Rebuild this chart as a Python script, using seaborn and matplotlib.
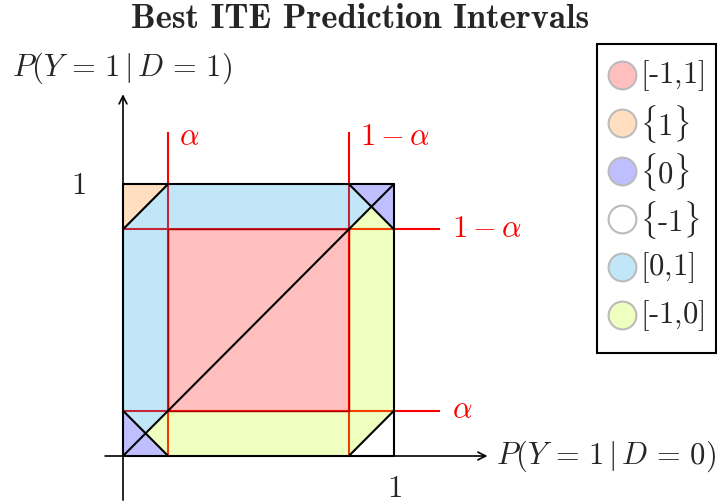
import matplotlib
matplotlib.use("Agg")
import matplotlib.pyplot as plt
from matplotlib.patches import Rectangle
from matplotlib.colors import to_rgba
import pandas as pd
import seaborn as sns

sns.set_theme(style="white")
plt.rcParams["mathtext.fontset"] = "cm"
plt.rcParams["font.family"] = ["cmr10", "DejaVu Serif"]
plt.rcParams["axes.unicode_minus"] = False

# significance level that splits the unit square
alpha = 1 / 6

interval_labels = [r"$\text{[-1,1]}$", r"$\{1\}$", r"$\{0\}$",
                   r"$\{\text{-1}\}$", r"$\text{[0,1]}$", r"$\text{[-1,0]}$"]
interval_colors = ["#ff0000", "#ff8000", "#0000ff", "#ffffff", "#0a9ee6", "#bfff00"]
fill_opacity = 0.25

a, b = alpha, 1 - alpha
c = 1 - alpha / 2
h = alpha / 2

# regions of (P(Y=1|D=0), P(Y=1|D=1)) with their best prediction interval
regions = {
    0: [[(a, a), (b, a), (b, b), (a, b)]],
    1: [[(0, b), (0, 1), (a, 1)]],
    2: [[(b, 1), (1, 1), (1, b), (c, c)], [(0, a), (0, 0), (a, 0), (h, h)]],
    3: [[(b, 0), (1, 0), (1, a)]],
    4: [[(0, a), (h, h), (a, a), (a, b), (b, b), (c, c), (b, 1), (a, 1), (0, b)]],
    5: [[(h, h), (a, 0), (b, 0), (1, a), (1, b), (c, c), (b, b), (b, a), (a, a)]],
}

W, H = 717, 503
fig = plt.figure(figsize=(W / 100, H / 100), dpi=100)
ax = fig.add_axes([0, 0, 1, 1])
ax.set_xlim(-123 / 271, (W - 123) / 271)
ax.set_ylim(-(H - 456) / 272, 456 / 272)
ax.axis("off")


def px(x, y):
    """Pixel position on the canvas -> data coordinates."""
    return (x - 123) / 271, (456 - y) / 272


# threshold lines
red_kw = dict(color="red", lw=1.5, zorder=1, solid_capstyle="butt")
for t in (a, b):
    ax.plot([t, t], [0, 1.19], **red_kw)
    ax.plot([0, 1.17], [t, t], **red_kw)

# coloured regions
for idx, polys in regions.items():
    for poly in polys:
        ax.fill(*zip(*poly), color=to_rgba(interval_colors[idx], fill_opacity),
                lw=0, zorder=2)
# darker rim of the central square
sq = regions[0][0]
ax.fill(*zip(*sq), fill=False, edgecolor="#b00000", lw=1.0, zorder=2.5)

# black boundaries: outer square, main diagonal and corner diagonals
segments = pd.DataFrame({
    "seg": [0, 0, 1, 1, 2, 2, 3, 3, 4, 4, 5, 5, 5, 5, 5],
    "x": [0, 1, 0, a, b, 1, 0, a, b, 1, 0, 1, 1, 0, 0],
    "y": [0, 1, b, 1, 1, b, a, 0, 0, a, 1, 1, 0, 0, 1],
})
sns.lineplot(data=segments, x="x", y="y", units="seg", estimator=None,
             sort=False, color="black", lw=1.5, ax=ax, zorder=3, legend=False)

# axes arrows
arrow = dict(arrowstyle="->", lw=1.2, color="black", shrinkA=0, shrinkB=0,
             mutation_scale=14)
ax.annotate("", xy=(1.345, 0), xytext=(-0.066, 0), arrowprops=arrow, zorder=4)
ax.annotate("", xy=(0, 1.33), xytext=(0, -0.162), arrowprops=arrow, zorder=4)

fs = 22
ax.text(*px(496, 456), r"$P(Y\,=\,1\,|\,D\,=\,0)$", fontsize=fs,
        ha="left", va="center")
ax.text(*px(122, 68), r"$P(Y\,=\,1\,|\,D\,=\,1)$", fontsize=fs,
        ha="center", va="center")
ax.text(*px(394, 489), r"$1$", fontsize=fs, ha="center", va="center")
ax.text(*px(78, 186), r"$1$", fontsize=fs, ha="center", va="center")

red_txt = dict(fontsize=fs, color="red", va="center", ha="left")
ax.text(*px(179, 137), r"$\alpha$", **red_txt)
ax.text(*px(360, 137), r"$1-\alpha$", **red_txt)
ax.text(*px(452, 229), r"$1-\alpha$", **red_txt)
ax.text(*px(452, 410), r"$\alpha$", **red_txt)

ax.text(*px(360, 19), "Best ITE Prediction Intervals", fontsize=25,
        fontfamily="cmb10", ha="center", va="center")

# legend box
x0, y0 = px(597, 353)
x1, y1 = px(716, 44)
ax.add_patch(Rectangle((x0, y0), x1 - x0, y1 - y0, facecolor="white",
                       edgecolor="black", lw=1.5, zorder=5))
for i, (lab, col) in enumerate(zip(interval_labels, interval_colors)):
    ry = 75 + 47.9 * i
    ax.scatter(*px(622, ry), s=400, color=to_rgba(col, fill_opacity),
               edgecolor="#bbbbbb", linewidth=1.5, zorder=6)
    ax.text(*px(640, ry + 1), lab, fontsize=fs, ha="left", va="center",
            zorder=6)

fig.savefig("out.png", dpi=100)
